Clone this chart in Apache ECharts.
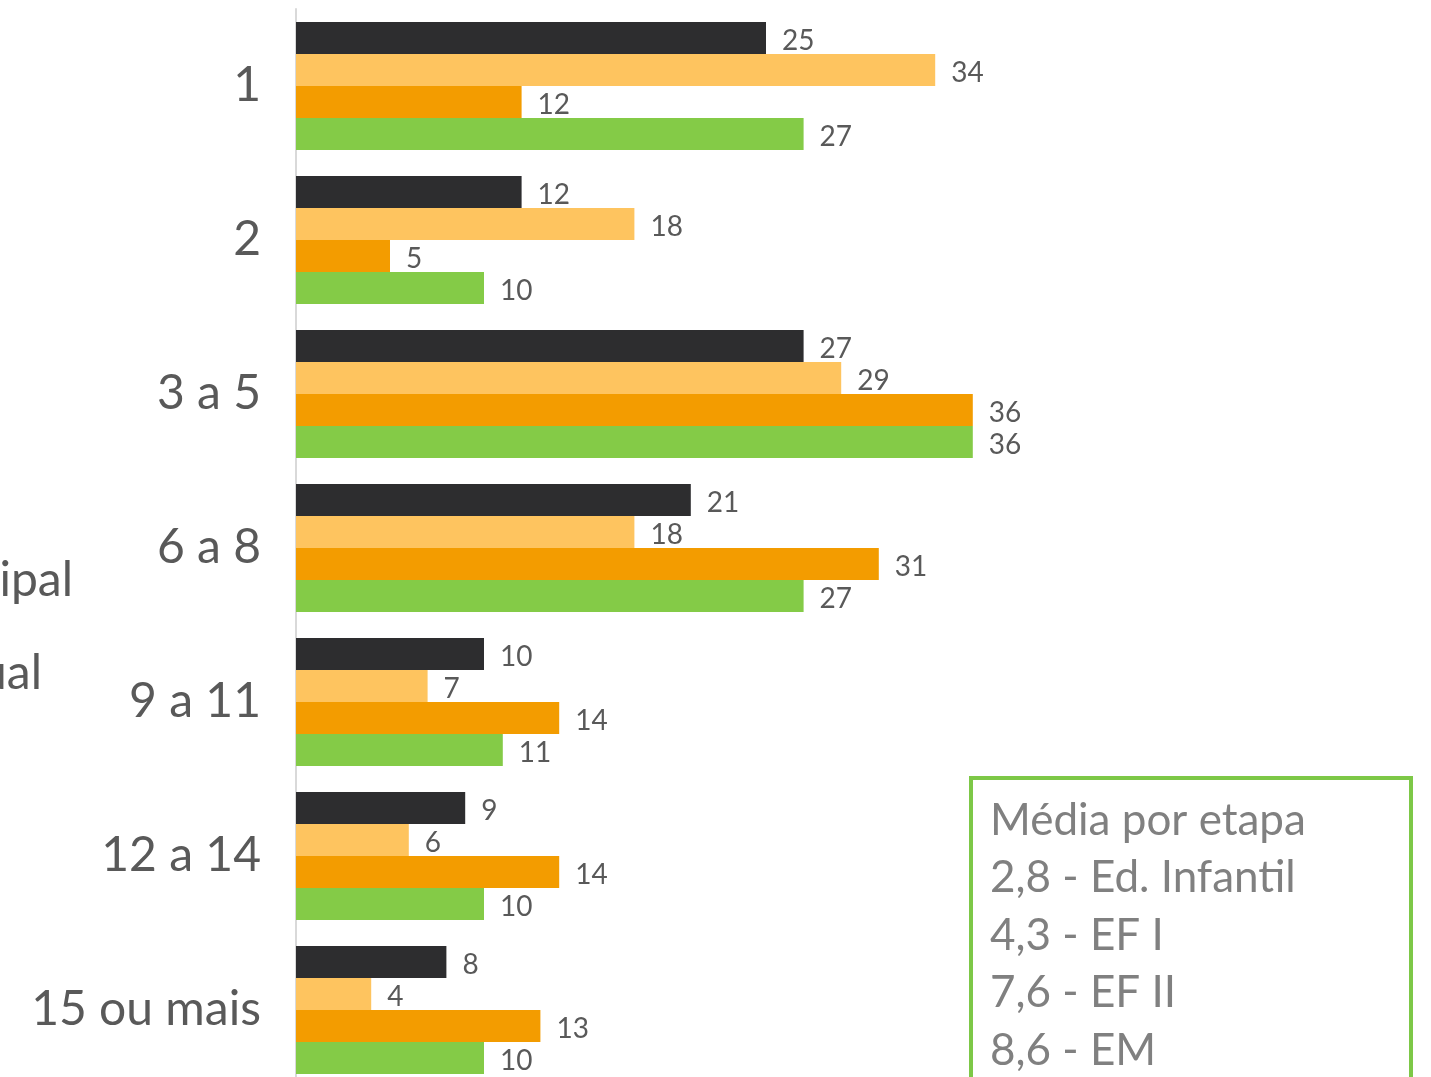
<!DOCTYPE html>
<html>
<head>
<meta charset="utf-8">
<script src="https://cdn.jsdelivr.net/npm/echarts@6/dist/echarts.min.js"></script>
<style>
  html, body { margin: 0; padding: 0; background: #fff; }
  #chart { width: 1431px; height: 1077px; }
</style>
</head>
<body>
<div id="chart"></div>
<script>
// faixas (categorias), de cima para baixo
const categories = ['1', '2', '3 a 5', '6 a 8', '9 a 11', '12 a 14', '15 ou mais'];
// quatro séries, na ordem das barras dentro de cada grupo
const serieEdInfantil = [25, 12, 27, 21, 10, 9, 8];
const serieEfI = [34, 18, 29, 18, 7, 6, 4];
const serieEfII = [12, 5, 36, 31, 14, 14, 13];
const serieEm = [27, 10, 36, 27, 11, 10, 10];
const seriesNames = ['Ed. Infantil', 'EF I', 'EF II', 'EM'];
const colors = ['#2d2d2f', '#fec45f', '#f39c00', '#84cb47'];
const mediaLines = ['Média por etapa', '2,8 - Ed. Infantil', '4,3 - EF I', '7,6 - EF II', '8,6 - EM'];

const font = 'Lato, "Open Sans", sans-serif';
const chart = echarts.init(document.getElementById('chart'));

const seriesData = [serieEdInfantil, serieEfI, serieEfII, serieEm];

const option = {
  backgroundColor: '#fff',
  animation: false,
  grid: {
    left: 296,
    top: 9,
    width: 940,
    height: 1078,
    outerBoundsMode: 'none',
    containLabel: false
  },
  xAxis: {
    type: 'value',
    min: 0,
    max: 50,
    show: false
  },
  yAxis: {
    type: 'category',
    data: categories,
    inverse: true,
    axisLine: {
      show: true,
      lineStyle: { color: '#d9d9d9', width: 2 }
    },
    axisTick: { show: false },
    axisLabel: {
      color: '#595959',
      fontSize: 48,
      fontFamily: font,
      margin: 35
    }
  },
  series: seriesData.map((d, i) => ({
    name: seriesNames[i],
    type: 'bar',
    data: d,
    barGap: '0%',
    barCategoryGap: '17%',
    itemStyle: { color: colors[i] },
    label: {
      show: true,
      position: 'right',
      distance: 16,
      offset: [0, 3],
      color: '#595959',
      fontSize: 28,
      fontFamily: font
    }
  })),
  graphic: [
    // legenda original, cortada na borda esquerda
    {
      type: 'text',
      right: 1431 - 73,
      top: 557,
      style: { text: 'Municipal', fill: '#595959', fontSize: 48, fontFamily: font, textAlign: 'right' }
    },
    {
      type: 'text',
      right: 1431 - 42,
      top: 650,
      style: { text: 'Estadual', fill: '#595959', fontSize: 48, fontFamily: font, textAlign: 'right' }
    },
    {
      type: 'rect',
      shape: { x: 971, y: 778, width: 440, height: 330 },
      style: { fill: '#fff', stroke: '#7dc847', lineWidth: 4 }
    },
    {
      type: 'text',
      left: 990,
      top: 792,
      style: {
        text: mediaLines.join('\n'),
        fill: '#808080',
        fontSize: 44,
        lineHeight: 57.5,
        fontFamily: font
      }
    }
  ]
};

chart.setOption(option);
</script>
</body>
</html>
